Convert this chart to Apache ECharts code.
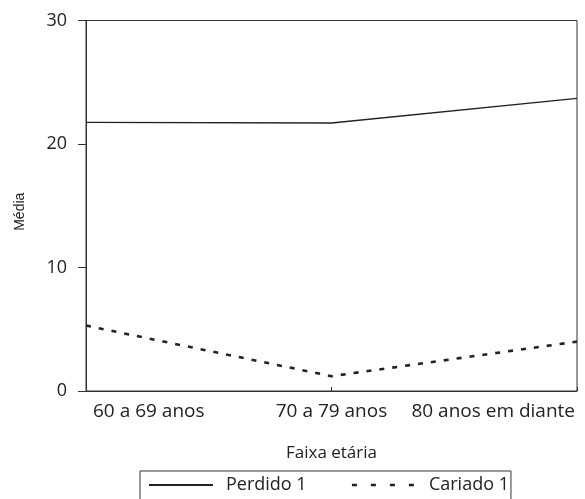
<!DOCTYPE html>
<html>
<head>
<meta charset="utf-8">
<script src="https://cdn.jsdelivr.net/npm/echarts@6/dist/echarts.min.js"></script>
<style>html,body{margin:0;padding:0;background:#fff;}#c{width:585px;height:499px;}</style>
</head>
<body>
<div id="c"></div>
<script>
const categories = ['60 a 69 anos', '70 a 79 anos', '80 anos em diante'];
const perdido = [21.75, 21.7, 23.7];
const cariado = [5.3, 1.2, 4.0];
const yTicks = [0, 10, 20, 30];

const chart = echarts.init(document.getElementById('c'), null, {renderer: 'canvas'});
const txt = '#222';
const ff = '"Open Sans", sans-serif';
chart.setOption({
  animation: false,
  backgroundColor: '#fff',
  grid: {left: 86, right: 8, top: 20.5, bottom: 108, show: true, borderColor: '#333', borderWidth: 1, containLabel: false},
  xAxis: {
    type: 'category', data: categories, boundaryGap: false,
    name: 'Faixa etária', nameLocation: 'middle', nameGap: 54,
    nameTextStyle: {fontFamily: ff, fontSize: 17, color: txt},
    axisLine: {lineStyle: {color: '#333', width: 1}},
    axisTick: {inside: true, length: 4, lineStyle: {color: '#333'}},
    axisLabel: {interval: 0, margin: 11, fontFamily: ff, fontSize: 19, color: txt,
      alignMinLabel: 'left', alignMaxLabel: 'right',
      formatter: function (v, i) { return i === 0 ? '{f|' + v + '}' : (i === 2 ? '{l|' + v + '}' : v); },
      rich: {f: {fontFamily: ff, fontSize: 19, color: txt, padding: [0, 0, 0, 7]}, l: {fontFamily: ff, fontSize: 19, color: txt, padding: [0, 2, 0, 0]}}},
    splitLine: {show: false}
  },
  yAxis: {
    type: 'value', min: yTicks[0], max: yTicks[yTicks.length - 1], interval: 10,
    name: 'Média', nameLocation: 'middle', nameGap: 59, nameRotate: 90,
    nameTextStyle: {fontFamily: '"Liberation Sans", Arial, sans-serif', fontSize: 14, color: txt, padding: [0, 12, 0, 0]},
    axisLine: {show: true, lineStyle: {color: '#333', width: 1}},
    axisTick: {show: true, inside: false, length: 8, lineStyle: {color: '#333'}},
    axisLabel: {margin: 19, fontFamily: ff, fontSize: 18, color: txt},
    splitLine: {show: false}
  },
  legend: {
    left: 140, top: 471,
    orient: 'horizontal',
    borderColor: '#333', borderWidth: 1, borderRadius: 0,
    padding: [5, 2, 12, 8],
    itemWidth: 64, itemHeight: 18, itemGap: 44,
    itemStyle: {opacity: 0},
    textStyle: {fontFamily: ff, fontSize: 18, color: txt, padding: [0, 0, 0, 8]},
    data: [
      {name: 'Perdido 1', itemStyle: {opacity: 0}},
      {name: 'Cariado 1', itemStyle: {opacity: 0}, lineStyle: {type: [5, 14], width: 2.5}}
    ]
  },
  series: [
    {name: 'Perdido 1', type: 'line', data: perdido, symbol: 'none', lineStyle: {color: '#222', width: 1.3, type: 'solid'}, itemStyle: {color: '#222'}},
    {name: 'Cariado 1', type: 'line', data: cariado, symbol: 'none', lineStyle: {color: '#222', width: 2.6, type: [5, 8]}, itemStyle: {color: '#222'}}
  ]
});
</script>
</body>
</html>
